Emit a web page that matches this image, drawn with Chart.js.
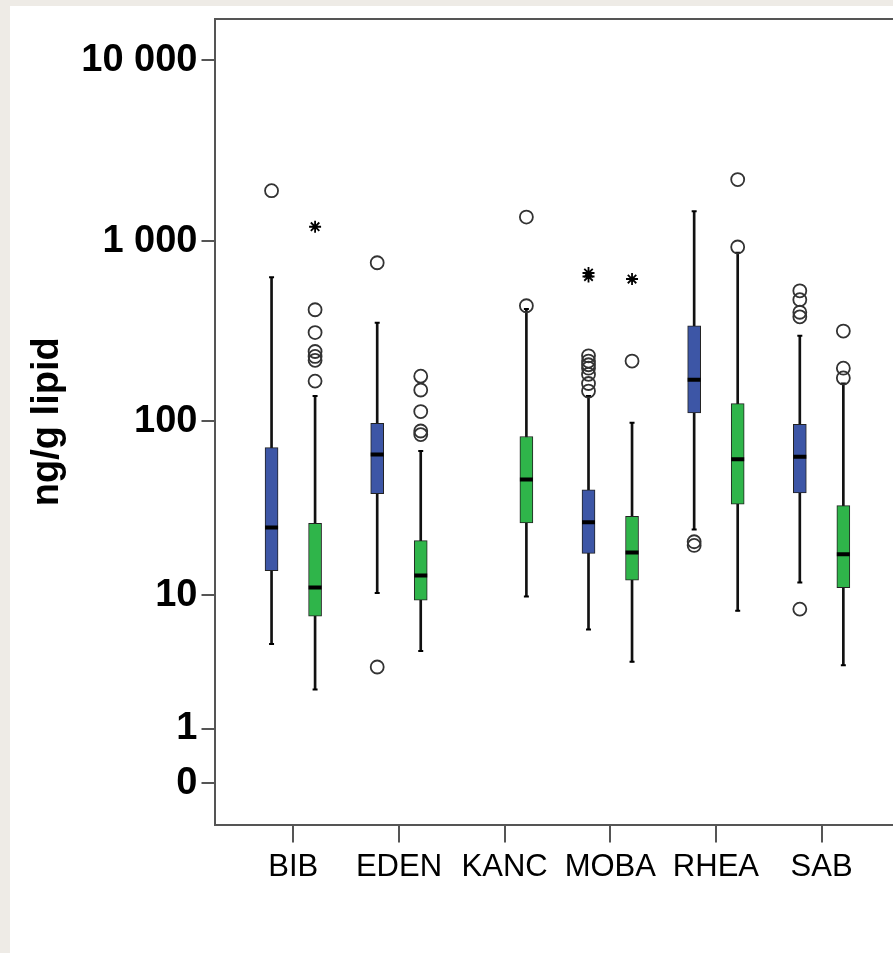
<!DOCTYPE html>
<html>
<head>
<meta charset="utf-8">
<script src="https://cdn.jsdelivr.net/npm/chart.js@4.4.0/dist/chart.umd.min.js"></script>
<style>
  html, body { margin: 0; padding: 0; background: #eeebe6; overflow: hidden; width: 893px; height: 953px; }
  #chart { position: absolute; left: 10px; top: 6px; display: block; background: #fff; }
</style>
</head>
<body>
<canvas id="chart" width="883" height="947"></canvas>
<script>
const categories = ['BIB', 'EDEN', 'KANC', 'MOBA', 'RHEA', 'SAB'];
const yTickValues = [0, 1, 10, 100, 1000, 10000];
const yTickLabels = ['0', '1', '10', '100', '1 000', '10 000'];

// blue boxes (left of each category), KANC has none
const blueLow = [4.9, 10.3, null, 6.1, 24.4, 11.9];
const blueQ1 = [14, 39, null, 17.7, 111, 39.4];
const blueMedian = [25, 65, null, 26.8, 170, 63];
const blueQ3 = [71, 97, null, 41, 339, 96];
const blueHigh = [630, 352, null, 138, 1460, 298];
const blueOutliers = [[1900], [3.4, 758], [], [147, 162, 182, 197, 206, 216, 231], [19.7, 20.7], [8.2, 380, 403, 473, 530]];
const blueExtremes = [[], [], [], [636, 665], [], []];

// green boxes (right of each category)
const greenLow = [2.3, 4.4, 9.8, 3.7, 8, 3.5];
const greenQ1 = [7.4, 9.3, 26.6, 12.3, 34, 11.1];
const greenMedian = [11.1, 13.1, 47, 17.9, 61, 17.5];
const greenQ3 = [26.4, 21, 82, 29, 125, 33.4];
const greenHigh = [138, 68, 420, 98, 860, 162];
const greenOutliers = [[167, 218, 229, 244, 311, 416], [84, 88, 113, 149, 178], [438, 1358], [216], [927, 2190], [174, 197, 317]];
const greenExtremes = [[1200], [], [], [616], [], []];

const FONT = "'Liberation Sans', Arial, sans-serif";
const AXIS = '#555';
const toY = v => Math.log10(v + 1); // axis is log10(x + 1)

function boxDatasets(low, q1, med, q3, high, outliers, extremes, shift, fill) {
    const idx = categories.map((c, i) => i).filter(i => med[i] !== null);
    const xOf = i => i + 1 + shift;
    return [
        { // whisker line
            type: 'bar', xAxisID: 'x', yAxisID: 'y', grouped: false, order: 5,
            data: idx.map(i => ({ x: xOf(i), y: [toY(low[i]), toY(high[i])] })),
            backgroundColor: '#111', borderWidth: 0, barThickness: 2
        },
        { // the box
            type: 'bar', xAxisID: 'x', yAxisID: 'y', grouped: false, order: 4,
            data: idx.map(i => ({ x: xOf(i), y: [toY(q1[i]), toY(q3[i])] })),
            backgroundColor: fill, borderColor: '#222', borderWidth: 1, borderSkipped: false, barThickness: 13
        },
        { // median
            type: 'scatter', xAxisID: 'x', yAxisID: 'y', order: 3,
            data: idx.map(i => ({ x: xOf(i), y: toY(med[i]) })),
            pointStyle: 'line', pointRadius: 6.5, pointBorderWidth: 4, pointBorderColor: '#000'
        },
        { // whisker caps
            type: 'scatter', xAxisID: 'x', yAxisID: 'y', order: 3,
            data: idx.flatMap(i => [{ x: xOf(i), y: toY(low[i]) }, { x: xOf(i), y: toY(high[i]) }]),
            pointStyle: 'line', pointRadius: 2.5, pointBorderWidth: 2, pointBorderColor: '#000'
        },
        { // outliers
            type: 'scatter', xAxisID: 'x', yAxisID: 'y', order: 1,
            data: outliers.flatMap((arr, i) => arr.map(v => ({ x: xOf(i), y: toY(v) }))),
            pointStyle: 'circle', pointRadius: 6.5, pointBorderWidth: 1.8,
            pointBorderColor: '#333', pointBackgroundColor: 'rgba(0,0,0,0)'
        },
        { // extremes
            type: 'scatter', xAxisID: 'x', yAxisID: 'y', order: 1,
            data: extremes.flatMap((arr, i) => arr.map(v => ({ x: xOf(i), y: toY(v) }))),
            pointStyle: 'star', pointRadius: 6, pointBorderWidth: 1.8, pointBorderColor: '#000'
        }
    ];
}

const datasets = [
    ...boxDatasets(blueLow, blueQ1, blueMedian, blueQ3, blueHigh, blueOutliers, blueExtremes, -0.206, '#3d56a6'),
    ...boxDatasets(greenLow, greenQ1, greenMedian, greenQ3, greenHigh, greenOutliers, greenExtremes, 0.206, '#2fb54a')
];

new Chart(document.getElementById('chart'), {
    type: 'bar',
    data: { datasets },
    options: {
        responsive: false,
        animation: false,
        events: [],
        layout: { autoPadding: false, padding: { top: 13, left: 0, right: 0, bottom: 0 } },
        plugins: { legend: { display: false }, tooltip: { enabled: false } },
        scales: {
            x: {
                type: 'linear', position: 'bottom', min: 0.254, max: 6.676, offset: false,
                afterBuildTicks: s => { s.ticks = categories.map((c, i) => ({ value: i + 1 })); },
                afterFit: s => { s.height = 128.5; s.paddingLeft = 0; s.paddingRight = 0; },
                ticks: {
                    callback: (v, i) => categories[i],
                    color: '#000', font: { family: FONT, size: 31 },
                    padding: 6, maxRotation: 0, autoSkip: false
                },
                grid: { drawOnChartArea: false, tickLength: 18, color: AXIS, lineWidth: 2, offset: false },
                border: { color: AXIS, width: 2 }
            },
            x2: {
                type: 'linear', position: 'top', min: 0, max: 1,
                ticks: { display: false },
                grid: { display: false },
                border: { color: AXIS, width: 2 },
                afterFit: s => { s.height = 0; s.paddingLeft = 0; s.paddingRight = 0; }
            },
            y: {
                type: 'linear', min: -0.228, max: 4.229,
                afterBuildTicks: s => { s.ticks = yTickValues.map(v => ({ value: toY(v) })); },
                afterFit: s => { s.width = 204.5; s.paddingTop = 0; s.paddingBottom = 0; },
                ticks: {
                    callback: (v, i) => yTickLabels[i],
                    color: '#000', font: { family: FONT, size: 38, weight: 'bold' }, padding: 4
                },
                grid: { drawOnChartArea: false, tickLength: 13, color: AXIS, lineWidth: 2 },
                border: { color: AXIS, width: 2 },
                title: {
                    display: true, text: 'ng/g lipid', color: '#000',
                    font: { family: FONT, size: 38, weight: 'bold' },
                    padding: { top: 15, bottom: 0 }
                }
            }
        }
    }
});
</script>
</body>
</html>
